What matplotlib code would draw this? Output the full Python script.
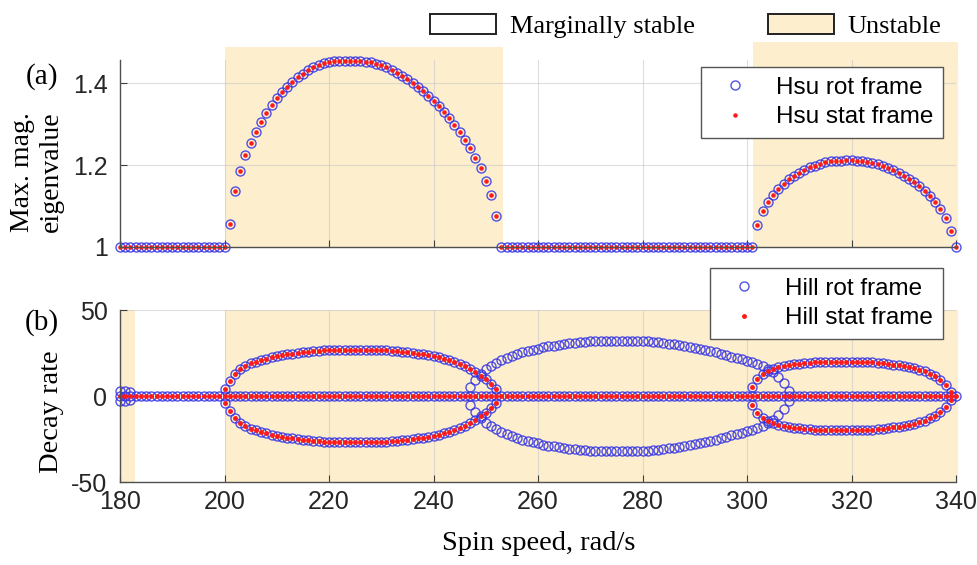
import numpy as np
import matplotlib.pyplot as plt
from matplotlib.patches import Patch

# spin speed grid, rad/s
speed = np.arange(180, 341)

# (a) max. magnitude eigenvalue, 1 = marginally stable
arch1_start = 201
arch1 = [1.057, 1.138, 1.186, 1.224, 1.255, 1.282, 1.306, 1.328, 1.347, 1.364,
         1.378, 1.392, 1.404, 1.415, 1.424, 1.433, 1.439, 1.445, 1.449, 1.452,
         1.454, 1.454, 1.455, 1.455, 1.454, 1.454, 1.453, 1.451, 1.448, 1.444,
         1.439, 1.433, 1.425, 1.418, 1.411, 1.402, 1.392, 1.382, 1.370, 1.358,
         1.344, 1.329, 1.316, 1.298, 1.281, 1.261, 1.241, 1.218, 1.192, 1.162,
         1.126, 1.076]
arch2_start = 302
arch2 = [1.054, 1.088, 1.110, 1.128, 1.142, 1.155, 1.165, 1.174, 1.182, 1.189,
         1.195, 1.199, 1.203, 1.207, 1.209, 1.211, 1.211, 1.212, 1.212, 1.211,
         1.210, 1.208, 1.205, 1.202, 1.197, 1.192, 1.187, 1.181, 1.174, 1.167,
         1.158, 1.148, 1.137, 1.125, 1.111, 1.093, 1.070, 1.040]

# (b) decay rate branches (upper half, lower half is mirrored)
ell1_start = 200
ell1 = [4.0, 9.0, 13.0, 15.5, 17.5, 19.0, 20.0, 21.0, 21.8, 22.5,
        23.1, 23.7, 24.2, 24.7, 25.1, 25.5, 25.8, 26.1, 26.3, 26.5,
        26.7, 26.8, 26.9, 27.0, 27.0, 27.0, 27.0, 27.0, 26.9, 26.8,
        26.7, 26.5, 26.3, 26.1, 25.8, 25.5, 25.1, 24.7, 24.3, 23.8,
        23.3, 22.5, 21.7, 20.7, 19.6, 18.5, 17.2, 15.6, 13.8, 11.8,
        9.6, 7.2, 4.0]
ell2_start = 247
ell2 = [5.0, 9.5, 13.0, 15.5, 17.5, 19.3, 20.8, 22.2, 23.4, 24.5,
        25.4, 26.2, 27.0, 27.6, 28.2, 28.8, 29.3, 29.8, 30.2, 30.6,
        30.9, 31.2, 31.5, 31.7, 31.9, 32.0, 32.1, 32.2, 32.2, 32.2,
        32.2, 32.2, 32.1, 32.0, 31.8, 31.5, 31.2, 30.8, 30.4, 30.0,
        29.6, 29.1, 28.6, 28.0, 27.4, 26.7, 26.0, 25.3, 24.5, 23.7,
        22.9, 22.1, 21.3, 20.5, 19.7, 18.7, 17.4, 15.8, 13.8, 11.0,
        7.5, 3.0]
ell3_start = 301
ell3 = [5.5, 10.0, 12.8, 14.5, 15.7, 16.6, 17.3, 17.9, 18.4, 18.8,
        19.1, 19.4, 19.6, 19.8, 19.9, 20.0, 20.0, 20.0, 20.0, 20.0,
        19.9, 19.8, 19.7, 19.5, 19.3, 19.0, 18.7, 18.3, 17.9, 17.4,
        16.8, 16.1, 15.3, 14.3, 13.0, 11.4, 9.3, 6.5, 2.5]
low_start = 180
low = [3.0, 3.0, 2.5]

hsu_unstable = [(200, 253.3, 1.07), (301.2, 340.4, 1.096)]
hill_unstable = [(180, 182.9), (200, 340.4)]

tan = '#fdefcd'
blue = (0.2, 0.2, 0.9)
red = '#ff1a1a'
tick_font = {'family': 'Liberation Sans', 'size': 18}


def branch(start, vals):
    x = np.arange(start, start + len(vals))
    v = np.array(vals)
    return np.concatenate([x, x]), np.concatenate([v, -v])


hsu = np.ones(len(speed))
hsu[arch1_start - 180:arch1_start - 180 + len(arch1)] = arch1
hsu[arch2_start - 180:arch2_start - 180 + len(arch2)] = arch2

red_x, red_y = [speed], [np.zeros(len(speed))]
blue_x, blue_y = [speed], [np.zeros(len(speed))]
for s, v in [(ell1_start, ell1), (ell3_start, ell3)]:
    bx, by = branch(s, v)
    red_x.append(bx); red_y.append(by)
    blue_x.append(bx); blue_y.append(by)
for s, v in [(ell2_start, ell2), (low_start, low)]:
    bx, by = branch(s, v)
    blue_x.append(bx); blue_y.append(by)
red_x = np.concatenate(red_x); red_y = np.concatenate(red_y)
blue_x = np.concatenate(blue_x); blue_y = np.concatenate(blue_y)

W, H = 977, 565
fig = plt.figure(figsize=(W / 100, H / 100), dpi=100)


def px(x, y):
    return x / W, 1 - y / H


ax_a = fig.add_axes([120 / W, 1 - 247 / H, 836 / W, 187 / H])
ax_b = fig.add_axes([120 / W, 1 - 482 / H, 836 / W, 172 / H])

for ax in (ax_a, ax_b):
    ax.set_xlim(180, 340)
    ax.set_xticks(np.arange(180, 341, 20))
    ax.spines['top'].set_visible(False)
    ax.spines['right'].set_visible(False)
    for s in ('left', 'bottom'):
        ax.spines[s].set_color('#505050')
        ax.spines[s].set_linewidth(1.0)
    ax.tick_params(direction='in', length=5, color='#404040', labelcolor='#262626')
    ax.tick_params(axis='y', pad=9)
    ax.tick_params(axis='x', pad=6)
    ax.grid(True, color='#c8c8c8', lw=0.8, alpha=0.6)
    ax.set_axisbelow('line')

# (a)
for x0, x1, top in hsu_unstable:
    r = ax_a.axvspan(x0, x1, ymin=0, ymax=top, color=tan, lw=0, zorder=0.2)
    r.set_clip_on(False)
ax_a.plot(speed, hsu, 'o', ms=6.5, mfc='none', mec=blue, mew=1.0, alpha=0.85,
          clip_on=False, label='Hsu rot frame')
ax_a.plot(speed, hsu, '.', ms=4.5, color=red, clip_on=False, label='Hsu stat frame')
ax_a.set_ylim(1, 1.457)
ax_a.set_yticks([1, 1.2, 1.4])
ax_a.set_yticklabels(['1', '1.2', '1.4'], fontdict=tick_font)
ax_a.set_xticklabels([])
leg_a = ax_a.legend(loc='upper right', bbox_to_anchor=((943 - 120) / 836, (247 - 67) / 187),
                    borderaxespad=0, prop={'family': 'Liberation Sans', 'size': 17.5},
                    fancybox=False, edgecolor='#555555', framealpha=1,
                    handlelength=2.0, handletextpad=0.7, labelspacing=0.3, borderpad=0.4)
leg_a.get_frame().set_linewidth(1.0)

# (b)
for x0, x1 in hill_unstable:
    r = ax_b.axvspan(x0, x1, color=tan, lw=0, zorder=0.2)
    r.set_clip_on(False)
ax_b.plot(blue_x, blue_y, 'o', ms=6.5, mfc='none', mec=blue, mew=1.0, alpha=0.85,
          clip_on=False, label='Hill rot frame')
ax_b.plot(red_x, red_y, '.', ms=5, color=red, clip_on=False, label='Hill stat frame')
ax_b.set_ylim(-50, 50)
ax_b.set_yticks([-50, 0, 50])
ax_b.set_yticklabels(['-50', '0', '50'], fontdict=tick_font)
ax_b.set_xticklabels([str(v) for v in range(180, 341, 20)], fontdict=tick_font)
leg_b = ax_b.legend(loc='upper right', bbox_to_anchor=((943 - 120) / 836, (482 - 268) / 172),
                    borderaxespad=0, prop={'family': 'Liberation Sans', 'size': 17.5},
                    fancybox=False, edgecolor='#555555', framealpha=1,
                    handlelength=2.0, handletextpad=0.7, labelspacing=0.3, borderpad=0.4)
leg_b.get_frame().set_linewidth(1.0)

serif = 'Liberation Serif'
fig.text(*px(42, 77), '(a)', family=serif, size=21, ha='center', va='center')
fig.text(*px(42, 323), '(b)', family=serif, size=21, ha='center', va='center')
fig.text(*px(37, 172), 'Max. mag.\neigenvalue', family=serif, size=20, rotation=90,
         ha='center', va='center', multialignment='center', linespacing=1.2)
fig.text(*px(52, 412), 'Decay rate', family=serif, size=20.5, rotation=90,
         ha='center', va='center')
fig.text(*px(539, 543), 'Spin speed, rad/s', family=serif, size=20.5,
         ha='center', va='center')

handles = [Patch(facecolor='white', edgecolor='#222222', lw=1.4, label='Marginally stable'),
           Patch(facecolor=tan, edgecolor='#222222', lw=1.4, label='Unstable')]
fig.legend(handles=handles, loc='upper right', bbox_to_anchor=px(952, 3), ncol=2,
           frameon=False, prop={'family': serif, 'size': 19}, handlelength=2.5,
           handleheight=0.8, handletextpad=0.5, columnspacing=2.8, borderaxespad=0)

fig.savefig('out.png', dpi=100)
